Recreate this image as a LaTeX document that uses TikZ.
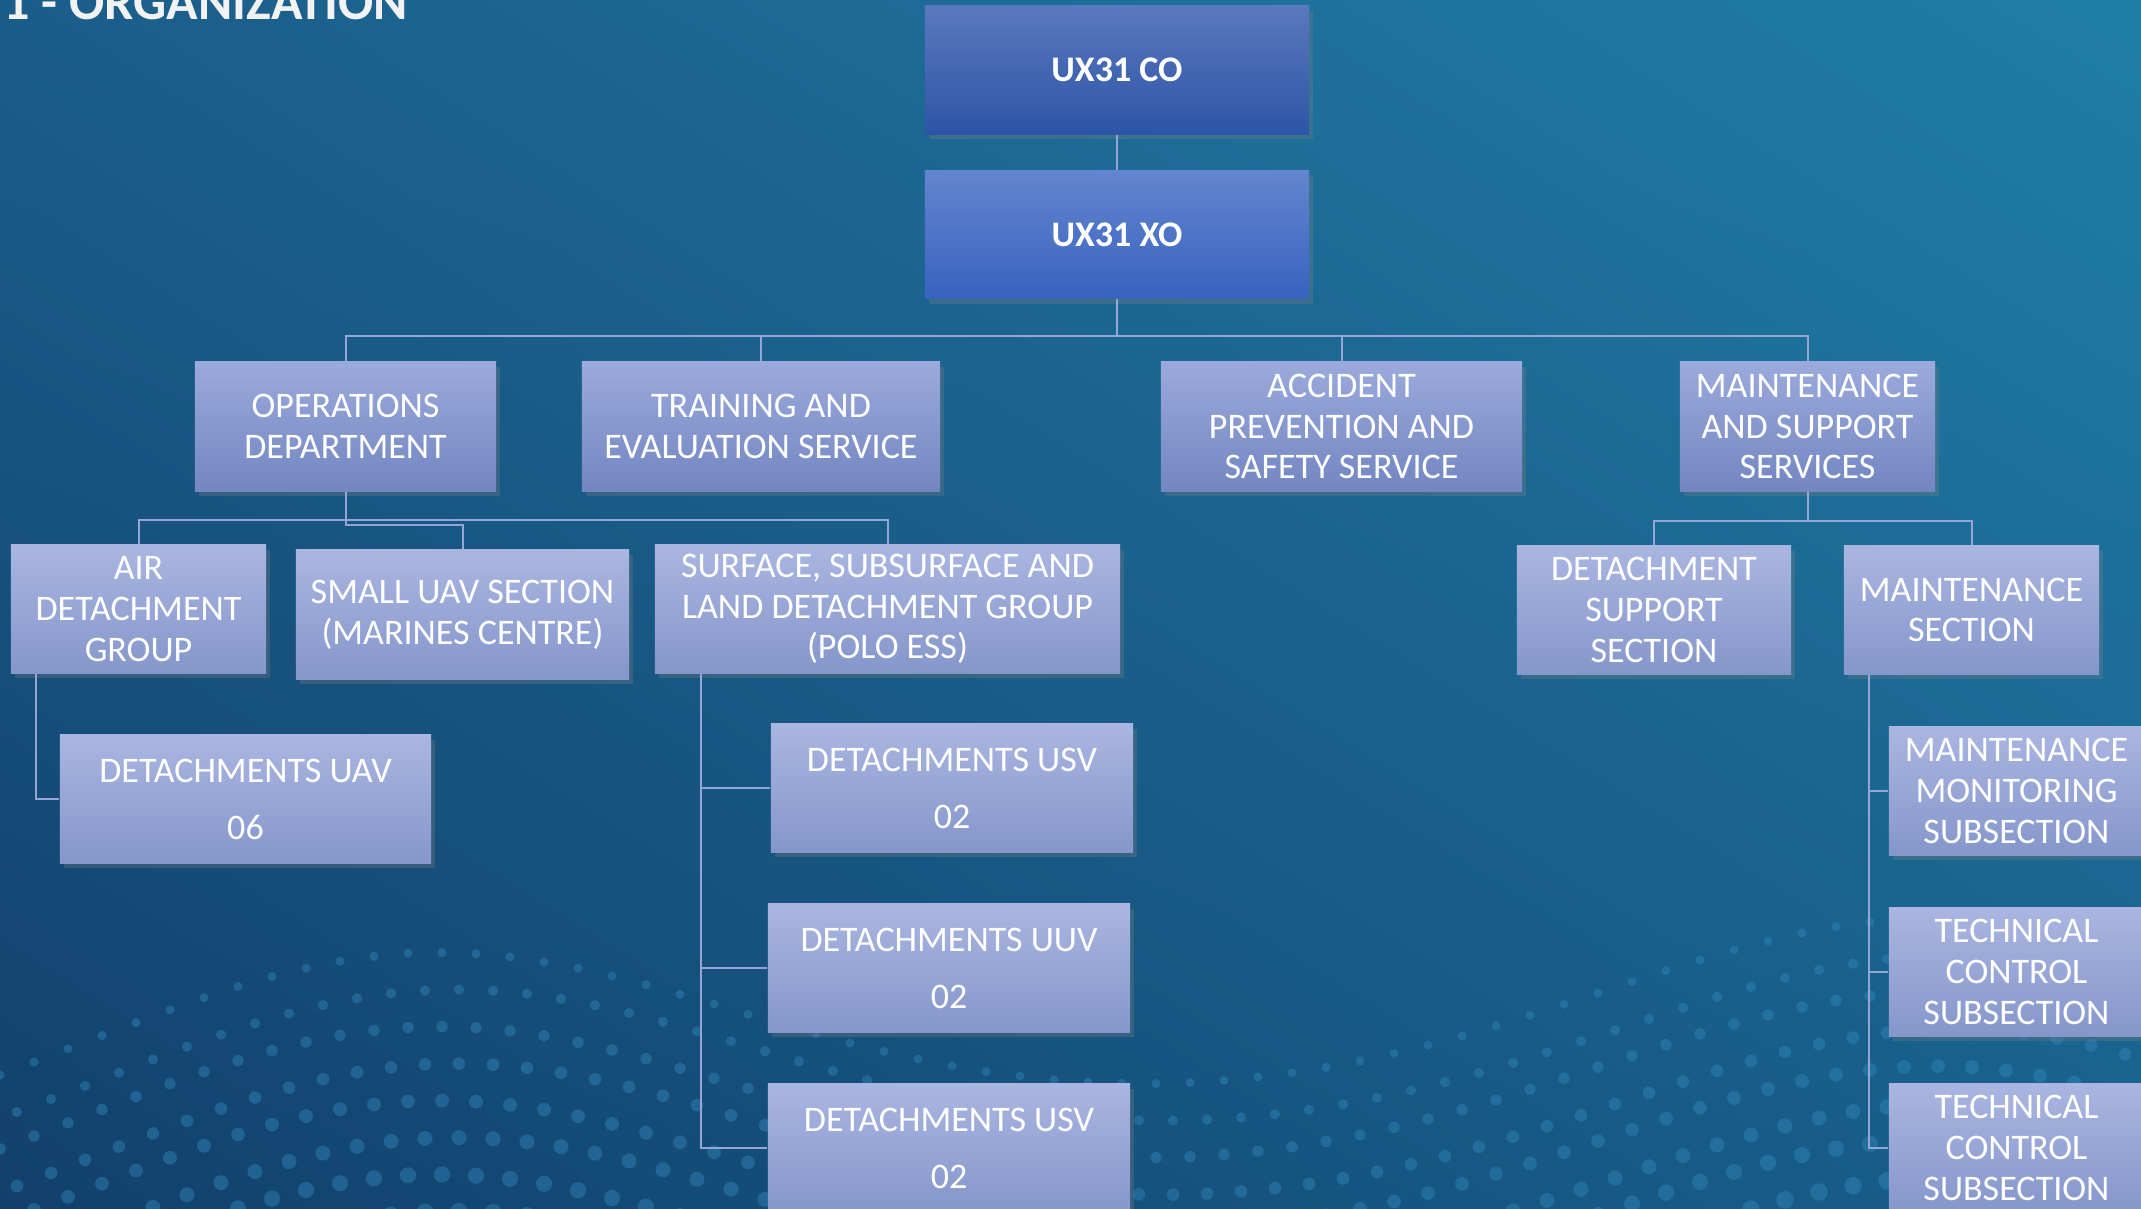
\documentclass[tikz,border=0pt]{standalone}
\usepackage{fontspec}
\setmainfont{Carlito}
\usepackage{tikz}
\usetikzlibrary{shadows,shadings}
\definecolor{bgul}{RGB}{27,93,138}
\definecolor{bgur}{RGB}{32,126,166}
\definecolor{bgll}{RGB}{18,64,108}
\definecolor{bglr}{RGB}{24,96,140}
\definecolor{dotblue}{RGB}{50,135,185}
\definecolor{linecol}{RGB}{150,165,215}
\definecolor{boxtop}{RGB}{155,170,220}
\definecolor{boxbot}{RGB}{115,134,193}
\definecolor{subtop}{RGB}{170,182,225}
\definecolor{subbot}{RGB}{133,150,203}
\definecolor{cotop}{RGB}{90,120,190}
\definecolor{cobot}{RGB}{45,85,166}
\definecolor{xotop}{RGB}{100,133,207}
\definecolor{xobot}{RGB}{55,99,190}

\tikzset{
  unit/.style={inner sep=0pt, align=center, text=white,
    font=\fontsize{10.24pt}{11.6pt}\selectfont,
    drop shadow={shadow xshift=0.04cm, shadow yshift=-0.05cm, opacity=0.3}},
  cmd/.style={unit, font=\bfseries\fontsize{10.24pt}{11.6pt}\selectfont,
    minimum width=3.84cm, minimum height=1.28cm},
  dept/.style={unit, top color=boxtop, bottom color=boxbot, minimum height=1.29cm},
  section/.style={unit, top color=subtop, bottom color=subbot, minimum height=1.28cm},
  detach/.style={section, font=\fontsize{10.24pt}{16.2pt}\selectfont},
  link/.style={draw=linecol, line width=0.02cm},
}

\begin{document}
\begin{tikzpicture}[x=0.01cm, y=-0.01cm]
  \useasboundingbox (0,0) rectangle (2141,1209);
  \clip (0,0) rectangle (2141,1209);
  \shade[upper left=bgul, upper right=bgur, lower left=bgll, lower right=bglr]
    (0,0) rectangle (2141,1209);

  % dotted wave in the background
  \foreach \k in {0,...,7}
    \foreach \x in {0,34,...,2160} {
      \pgfmathsetmacro\ua{1+0.6*((\x-420)/600)*((\x-420)/600)}
      \pgfmathsetmacro\ub{1+0.6*((\x-1950)/650)*((\x-1950)/650)}
      \pgfmathsetmacro\yy{1250-280/(\ua*\ua)-320/(\ub*\ub)+37*\k}
      \pgfmathsetmacro\xx{\x+17*mod(\k,2)}
      \pgfmathsetmacro\rr{0.045+0.006*\k}
      \fill[dotblue, opacity=0.45] (\xx,\yy) circle[radius=\rr cm];
    }

  \node[anchor=base west, inner sep=0pt, text=white!95!black,
    font=\bfseries\fontsize{14.8pt}{16pt}\selectfont] (title) at (3,19) {1 - ORGANIZATION};

  \node[cmd, top color=cotop, bottom color=cobot] (co) at (1117,70) {UX31 CO};
  \node[cmd, top color=xotop, bottom color=xobot] (xo) at (1117,234.5) {UX31 XO};

  \node[dept, minimum width=3.01cm] (ops) at (345.5,426.5) {OPERATIONS\\DEPARTMENT};
  \node[dept, minimum width=3.58cm] (train) at (761,426.5) {TRAINING AND\\EVALUATION SERVICE};
  \node[dept, minimum width=3.61cm] (accid) at (1341.5,426.5) {ACCIDENT\\PREVENTION AND\\SAFETY SERVICE};
  \node[dept, minimum width=2.55cm] (maint) at (1807.5,426.5) {MAINTENANCE\\AND SUPPORT\\SERVICES};

  \node[section, minimum width=2.55cm] (air) at (138.5,609) {AIR\\DETACHMENT\\GROUP};
  \node[section, minimum width=3.33cm, minimum height=1.29cm] (suav) at (462.5,614.5) {SMALL UAV SECTION\\(MARINES CENTRE)};
  \node[section, minimum width=4.65cm] (surf) at (887.5,609) {SURFACE, SUBSURFACE AND\\LAND DETACHMENT GROUP\\(POLO ESS)};
  \node[section, minimum width=2.74cm] (dsup) at (1654,610) {DETACHMENT\\SUPPORT\\SECTION};
  \node[section, minimum width=2.55cm] (msec) at (1971.5,610) {MAINTENANCE\\SECTION};

  \node[detach, minimum width=3.71cm] (uav) at (245.5,799) {DETACHMENTS UAV\\06};
  \node[detach, minimum width=3.62cm] (usv1) at (952,788) {DETACHMENTS USV\\02};
  \node[detach, minimum width=3.62cm] (uuv) at (949,968) {DETACHMENTS UUV\\02};
  \node[detach, minimum width=3.62cm] (usv2) at (949,1148) {DETACHMENTS USV\\02};

  \node[section, minimum width=2.55cm] (mmon) at (2016.5,791) {MAINTENANCE\\MONITORING\\SUBSECTION};
  \node[section, minimum width=2.55cm] (tc1) at (2016.5,972) {TECHNICAL\\CONTROL\\SUBSECTION};
  \node[section, minimum width=2.55cm] (tc2) at (2016.5,1148) {TECHNICAL\\CONTROL\\SUBSECTION};

  % connectors
  \draw[link] (co) -- (xo);
  \coordinate (bus) at (1117,336);
  \foreach \n in {ops,train,accid,maint}
    \draw[link] (xo.south) -- (bus) -| (\n.north);
  \foreach \n in {air,surf}
    \draw[link] (ops.south) -- ++(0,28) -| (\n.north);
  \draw[link] (ops.south) -- ++(0,33) -| (suav.north);
  \foreach \n in {dsup,msec}
    \draw[link] (maint.south) -- ++(0,29) -| (\n.north);
  \draw[link] ([xshift=0.26cm]air.south west) |- (uav.west);
  \foreach \n in {usv1,uuv,usv2}
    \draw[link] ([xshift=0.47cm]surf.south west) |- (\n.west);
  \foreach \n in {mmon,tc1,tc2}
    \draw[link] ([xshift=0.26cm]msec.south west) |- (\n.west);
\end{tikzpicture}
\end{document}
